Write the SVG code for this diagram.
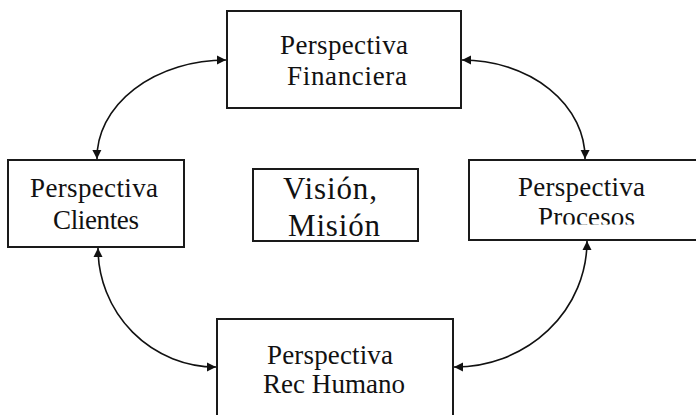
<svg xmlns="http://www.w3.org/2000/svg" width="696" height="415" viewBox="0 0 696 415">
  <style>
    .box { fill: #ffffff; stroke: #1a1a1a; stroke-width: 2; }
    .t { font-family: "Liberation Serif", "Times New Roman", serif; font-size: 27px; fill: #111; }
    .tv { font-family: "Liberation Serif", "Times New Roman", serif; font-size: 31px; fill: #111; }
    .conn { fill: none; stroke: #111; stroke-width: 1.6; marker-start: url(#arr); marker-end: url(#arr); }
  </style>
  <defs>
    <marker id="arr" markerUnits="userSpaceOnUse" markerWidth="10" markerHeight="10" refX="9" refY="5" orient="auto-start-reverse">
      <path d="M0,0.5 L9,5 L0,9.5 z" fill="#111"/>
    </marker>
    <clipPath id="clipProc">
      <rect x="460" y="150" width="240" height="74.5"/>
    </clipPath>
  </defs>
  <rect width="696" height="415" fill="#ffffff"/>

  <g id="connectors">
    <path class="conn" d="M97,159 A129,98 0 0 1 226,60"/>
    <path class="conn" d="M462,60 A123,98 0 0 1 585,159"/>
    <path class="conn" d="M587,241 A132,126 0 0 1 454,367"/>
    <path class="conn" d="M98,248 A118,119 0 0 0 216,367"/>
  </g>

  <g id="financiera">
    <rect class="box" x="227" y="11" width="234" height="97"/>
    <text class="t" x="280" y="54" textLength="128" lengthAdjust="spacing">Perspectiva</text>
    <text class="t" x="287" y="85" textLength="120" lengthAdjust="spacing">Financiera</text>
  </g>

  <g id="clientes">
    <rect class="box" x="8" y="160" width="176" height="87"/>
    <text class="t" x="30" y="197" textLength="128" lengthAdjust="spacing">Perspectiva</text>
    <text class="t" x="53" y="229" textLength="86" lengthAdjust="spacing">Clientes</text>
  </g>

  <g id="vision">
    <rect class="box" x="253" y="169" width="165" height="72"/>
    <text class="tv" x="283" y="199" textLength="94" lengthAdjust="spacing">Visión,</text>
    <text class="tv" x="288" y="236" textLength="92" lengthAdjust="spacing">Misión</text>
  </g>

  <g id="procesos">
    <rect class="box" x="469" y="160" width="240" height="80"/>
    <text class="t" x="518" y="196" textLength="127" lengthAdjust="spacing">Perspectiva</text>
    <text class="t" x="538" y="226" textLength="97" lengthAdjust="spacing" clip-path="url(#clipProc)">Procesos</text>
  </g>

  <g id="humano">
    <rect class="box" x="217" y="319" width="236" height="110"/>
    <text class="t" x="267" y="364" textLength="126" lengthAdjust="spacing">Perspectiva</text>
    <text class="t" x="263" y="393" textLength="142" lengthAdjust="spacing">Rec Humano</text>
  </g>
</svg>
